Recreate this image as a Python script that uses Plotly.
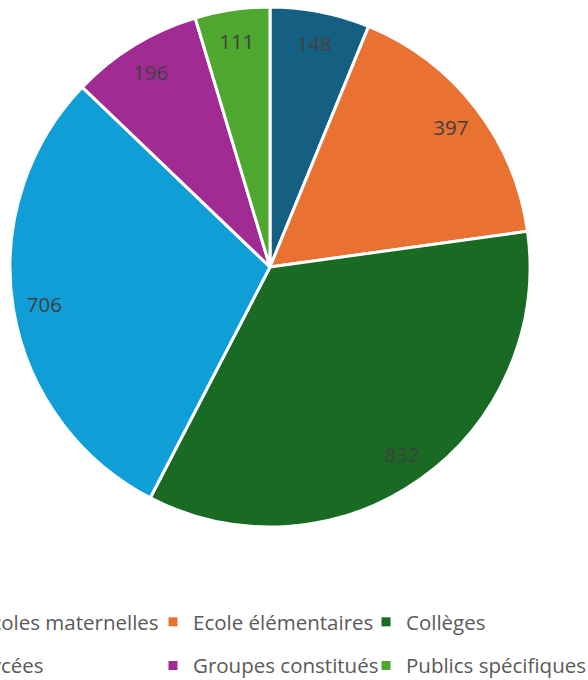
import plotly.graph_objects as go

# Données du graphique
categories = ["Ecoles maternelles", "Ecole élémentaires", "Collèges",
              "Lycées", "Groupes constitués", "Publics spécifiques"]
effectifs = [148, 397, 832, 706, 196, 111]
couleurs = ["#156082", "#E97132", "#196B24", "#0F9ED5", "#A02B93", "#4EA72E"]

W, H = 588, 680
FONT = "Open Sans"

# zone du camembert (cercle de 520 px, centre 270/267)
domaine = dict(x=[10 / W, 530 / W], y=[(H - 527) / H, (H - 7) / H])

fig = go.Figure()

# camembert principal
fig.add_trace(go.Pie(
    labels=categories,
    values=effectifs,
    sort=False,
    direction="clockwise",
    rotation=0,
    marker=dict(colors=couleurs, line=dict(color="white", width=3)),
    textinfo="none",
    hoverinfo="label+value",
    showlegend=False,
    domain=domaine,
))

# anneau transparent : place les étiquettes près du bord
fig.add_trace(go.Pie(
    labels=categories,
    values=effectifs,
    sort=False,
    direction="clockwise",
    rotation=0,
    hole=0.76,
    marker=dict(colors=["rgba(0,0,0,0)"] * len(categories), line=dict(width=0)),
    textinfo="value",
    textposition="inside",
    insidetextorientation="horizontal",
    textfont=dict(family=FONT, size=20.5, color="#404040"),
    hoverinfo="skip",
    showlegend=False,
    domain=domaine,
))

# entrées de légende (3 colonnes x 2 lignes)
noms_legendes = ["legend", "legend2", "legend3"]
for i, (cat, coul) in enumerate(zip(categories, couleurs)):
    fig.add_trace(go.Scatter(
        x=[None], y=[None],
        mode="markers",
        name=cat,
        marker=dict(symbol="square", size=9, color=coul),
        legend=noms_legendes[i % 3],
        legendgroup=cat,
        hoverinfo="skip",
    ))

leg = dict(
    orientation="v",
    traceorder="grouped",
    tracegroupgap=14,
    xanchor="left",
    yanchor="top",
    y=(H - 602) / H,
    font=dict(family=FONT, size=20.5, color="#595959"),
    bgcolor="rgba(0,0,0,0)",
)

fig.update_layout(
    width=W,
    height=H,
    margin=dict(l=0, r=0, t=0, b=0, autoexpand=False),
    paper_bgcolor="white",
    plot_bgcolor="white",
    xaxis=dict(visible=False),
    yaxis=dict(visible=False),
    showlegend=True,
    legend=dict(leg, x=-60 / W),
    legend2=dict(leg, x=153 / W),
    legend3=dict(leg, x=366 / W),
)

# pas de marge autour du graphique dans la page
fig.write_html(
    "out.html",
    config={"displayModeBar": False},
    post_script="document.body.style.margin = '0';",
)
